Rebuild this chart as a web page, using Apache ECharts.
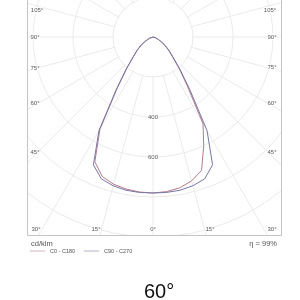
<!DOCTYPE html>
<html>
<head>
<meta charset="utf-8">
<script src="https://cdn.jsdelivr.net/npm/echarts@6/dist/echarts.min.js"></script>
<style>
html, body { margin: 0; padding: 0; background: #fff; }
#chart { width: 300px; height: 300px; }
</style>
</head>
<body>
<div id="chart"></div>
<script>
// gamma angle from nadir (deg) and intensities in cd/klm
var gammas = [0, 5, 10, 15, 20, 25, 30, 35, 40, 45, 50, 55, 60, 65, 70, 75, 80, 85, 90];
var c0   = [780, 776, 766, 745, 710, 600, 500, 300, 200, 135, 100, 70, 48, 30, 18, 10, 5, 2, 0];
var c180 = [780, 778, 772, 762, 742, 688, 530, 310, 202, 138, 102, 72, 49, 30, 18, 10, 5, 2, 0];
var c90  = [780, 780, 778, 770, 755, 705, 540, 320, 208, 140, 105, 75, 50, 30, 19, 10, 5, 2, 0];
var c270 = [780, 780, 778, 770, 755, 705, 540, 320, 208, 140, 105, 75, 50, 30, 19, 10, 5, 2, 0];
var ringLabels = [400, 600];
var planeNames = ['C0 - C180', 'C90 - C270'];
var beamTitle = '60°';
var efficiency = 'η = 99%';
var unitText = 'cd/klm';

var gridColor = '#ece9ea';
var labelColor = '#555';

// left half uses 360 - gamma, right half uses gamma
function plane(leftVals, rightVals) {
    var d = [];
    for (var i = gammas.length - 1; i >= 0; i--) d.push([leftVals[i], 360 - gammas[i]]);
    for (var j = 0; j < gammas.length; j++) d.push([rightVals[j], gammas[j]]);
    return d;
}

var chart = echarts.init(document.getElementById('chart'));

// angle labels along the frame
var angleTexts = [
    ['105°', 37, 10], ['90°', 35, 37], ['75°', 35, 68], ['60°', 35, 103], ['45°', 35, 152], ['30°', 36, 229],
    ['15°', 96, 229], ['0°', 153, 229], ['15°', 210, 229],
    ['105°', 270, 10], ['90°', 272, 37], ['75°', 272, 67], ['60°', 272, 103], ['45°', 272, 152], ['30°', 272, 229]
];
var graphics = [
    // white masks outside the frame
    { type: 'rect', z: 1.5, silent: true, shape: { x: 0, y: 0, width: 27.5, height: 300 }, style: { fill: '#fff' } },
    { type: 'rect', z: 1.5, silent: true, shape: { x: 281.5, y: 0, width: 19, height: 300 }, style: { fill: '#fff' } },
    { type: 'rect', z: 1.5, silent: true, shape: { x: 0, y: 235.5, width: 300, height: 65 }, style: { fill: '#fff' } },
    // frame
    { type: 'rect', z: 1.6, silent: true, shape: { x: 27.5, y: -2, width: 254, height: 237.5 },
      style: { fill: null, stroke: '#c4c4c4', lineWidth: 1 } },
    // hide radial lines inside the first ring
    { type: 'circle', z: 0.5, silent: true, shape: { cx: 153, cy: 37, r: 39 }, style: { fill: '#fff' } },
    { type: 'text', z: 3, left: 31, top: 240, style: { text: unitText, fontSize: 7.5, fill: labelColor, fontFamily: 'Liberation Sans' } },
    { type: 'text', z: 3, right: 23, top: 240, style: { text: efficiency, fontSize: 7.5, fill: labelColor, fontFamily: 'Liberation Sans' } }
];
angleTexts.forEach(function (t) {
    graphics.push({
        type: 'text', z: 3, x: t[1], y: t[2], silent: true,
        style: { text: t[0], fontSize: 6, fill: labelColor, fontFamily: 'Liberation Sans',
                 align: 'center', verticalAlign: 'middle', backgroundColor: '#fff' }
    });
});

var option = {
    animation: false,
    title: {
        text: beamTitle, left: 139, top: 277,
        textStyle: { fontSize: 20, fontWeight: 'normal', color: '#111', fontFamily: 'Liberation Sans' }
    },
    legend: {
        left: 30, top: 248, padding: 0, itemWidth: 15, itemHeight: 1, itemGap: 9, icon: 'rect',
        textStyle: { fontSize: 5.5, color: labelColor, fontFamily: 'Liberation Sans' },
        data: planeNames
    },
    polar: { center: [153, 37], radius: 240 },
    angleAxis: {
        type: 'value', min: 0, max: 360, interval: 15, startAngle: 270, clockwise: false, z: 0,
        axisLine: { show: false }, axisTick: { show: false }, axisLabel: { show: false },
        splitLine: { lineStyle: { color: gridColor, width: 1 } }
    },
    radiusAxis: {
        min: 0, max: 1200, interval: 200, z: 1,
        axisLine: { show: false }, axisTick: { show: false },
        axisLabel: {
            margin: 0, align: 'center', verticalAlign: 'middle', fontSize: 6, color: labelColor,
            fontFamily: 'Liberation Sans', backgroundColor: '#fff',
            formatter: function (v) { return ringLabels.indexOf(v) >= 0 ? String(v) : ''; }
        },
        splitLine: { lineStyle: { color: gridColor, width: 1 } }
    },
    series: [
        { name: planeNames[0], type: 'line', coordinateSystem: 'polar', symbol: 'none',
          lineStyle: { color: '#b77a89', width: 1 }, itemStyle: { color: '#d2b4bc' }, data: plane(c180, c0) },
        { name: planeNames[1], type: 'line', coordinateSystem: 'polar', symbol: 'none',
          lineStyle: { color: '#7676a6', width: 1 }, itemStyle: { color: '#b0b0c4' }, data: plane(c270, c90) }
    ],
    graphic: graphics
};
chart.setOption(option);
</script>
</body>
</html>
